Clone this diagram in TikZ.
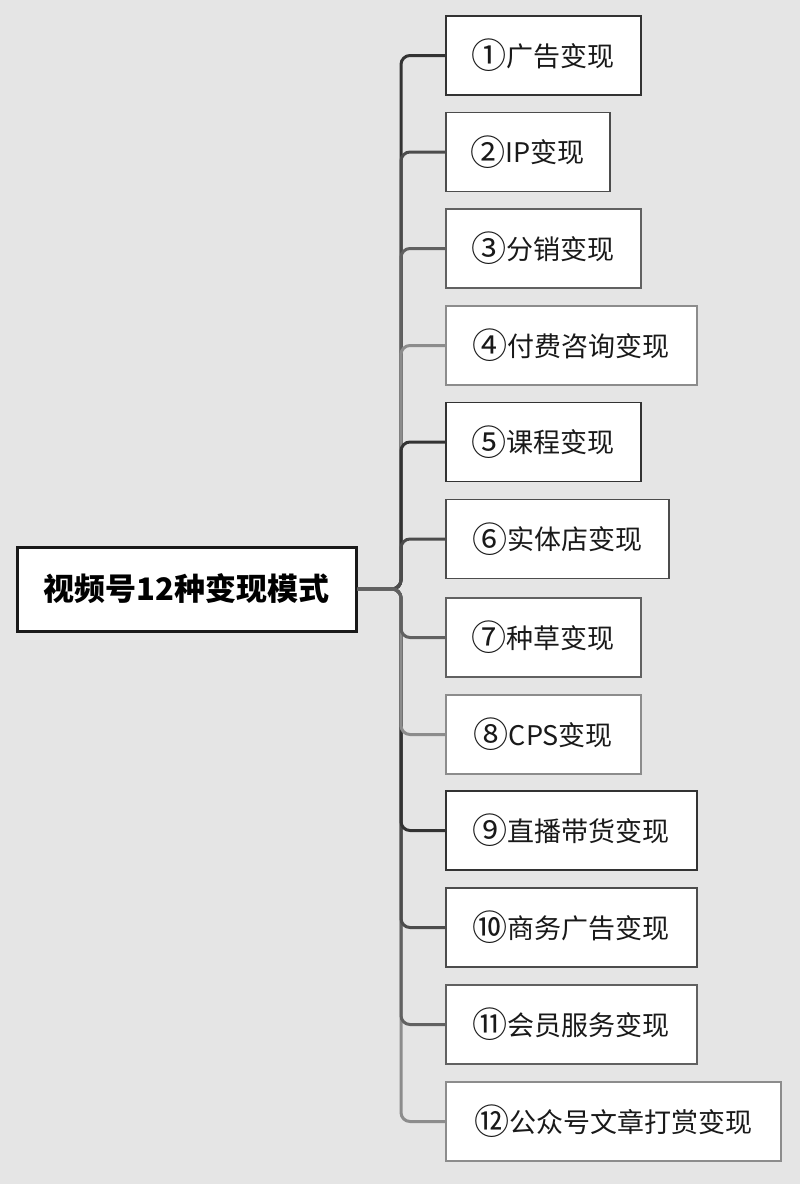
\documentclass[tikz,border=0pt]{standalone}
\usepackage{graphicx}
\usepackage{fontspec}
\setmainfont{Noto Sans CJK SC}
\newcommand\circnum[1]{\raisebox{-0.1em}{\scalebox{1.3}{#1}}}
\begin{document}
\begin{tikzpicture}[x=1pt,y=-1pt,
  c1/.style={draw=black!80},
  c2/.style={draw=black!70},
  c3/.style={draw=black!62},
  c4/.style={draw=black!45},
  child/.style={rectangle, fill=white, line width=1.6pt, anchor=west, minimum height=79pt,
    inner xsep=0pt, font=\fontsize{27}{30}\selectfont, text=black!90},
  rootbox/.style={rectangle, fill=white, draw=black!90, line width=3pt, minimum width=339pt,
    minimum height=84pt, font=\bfseries\fontsize{31}{34}\selectfont},
  link/.style={line width=3pt, rounded corners=9pt}]
\fill[black!10] (0,0) rectangle (800,1184);
\useasboundingbox (0,0) rectangle (800,1184);
\node[rootbox] (root) at (186.5,589) {视频号12种变现模式};
\node[child,c1,minimum width=195pt] (n1) at (445,55.5) {\circnum{①}广告变现};
\node[child,c2,minimum width=164pt] (n2) at (445,152) {\circnum{②}IP变现};
\node[child,c3,minimum width=195pt] (n3) at (445,248.5) {\circnum{③}分销变现};
\node[child,c4,minimum width=251pt] (n4) at (445,345.5) {\circnum{④}付费咨询变现};
\node[child,c1,minimum width=195pt] (n5) at (445,442) {\circnum{⑤}课程变现};
\node[child,c2,minimum width=223pt] (n6) at (445,539) {\circnum{⑥}实体店变现};
\node[child,c3,minimum width=195pt] (n7) at (445,637.5) {\circnum{⑦}种草变现};
\node[child,c4,minimum width=195pt] (n8) at (445,734.5) {\circnum{⑧}CPS变现};
\node[child,c1,minimum width=251pt] (n9) at (445,830.5) {\circnum{⑨}直播带货变现};
\node[child,c2,minimum width=251pt] (n10) at (445,927.5) {\circnum{⑩}商务广告变现};
\node[child,c3,minimum width=251pt] (n11) at (445,1024.5) {\circnum{⑪}会员服务变现};
\node[child,c4,minimum width=335pt] (n12) at (445,1121.5) {\circnum{⑫}公众号文章打赏变现};
\coordinate (j) at (401,589);
\draw[link,c1] (root.east) -- (j) |- (n1.west);
\draw[link,c2] (root.east) -- (j) |- (n2.west);
\draw[link,c3] (root.east) -- (j) |- (n3.west);
\draw[link,c4] (root.east) -- (j) |- (n4.west);
\draw[link,c1] (root.east) -- (j) |- (n5.west);
\draw[link,c2] (root.east) -- (j) |- (n6.west);
\draw[link,c4] (root.east) -- (j) |- (n12.west);
\draw[link,c3] (root.east) -- (j) |- (n11.west);
\draw[link,c2] (root.east) -- (j) |- (n10.west);
\draw[link,c1] (root.east) -- (j) |- (n9.west);
\draw[link,c4] (root.east) -- (j) |- (n8.west);
\draw[link,c3] (root.east) -- (j) |- (n7.west);
\end{tikzpicture}
\end{document}
